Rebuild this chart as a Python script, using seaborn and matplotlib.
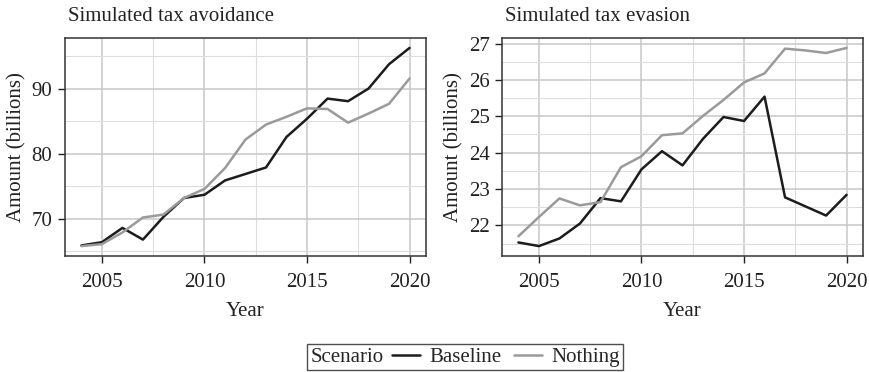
import matplotlib
matplotlib.use('Agg')
import matplotlib.pyplot as plt
import seaborn as sns
import pandas as pd
from matplotlib.ticker import MultipleLocator
from matplotlib.offsetbox import HPacker

years = list(range(2004, 2021))

avoid_baseline = [65.9, 66.4, 68.6, 66.8, 70.3, 73.2, 73.7, 75.9, 76.9, 77.9,
                  82.6, 85.4, 88.5, 88.1, 90.05, 93.8, 96.3]
avoid_nothing = [65.8, 66.1, 67.9, 70.2, 70.65, 73.2, 74.6, 77.8, 82.2, 84.5,
                 85.7, 87.0, 86.9, 84.8, 86.2, 87.7, 91.6]

evade_baseline = [21.53, 21.43, 21.64, 22.05, 22.75, 22.66, 23.54, 24.04, 23.65,
                  24.38, 24.98, 24.87, 25.54, 22.77, 22.52, 22.27, 22.84]
evade_nothing = [21.70, 22.23, 22.74, 22.55, 22.64, 23.60, 23.90, 24.48, 24.53,
                 25.01, 25.45, 25.93, 26.18, 26.86, 26.81, 26.74, 26.88]

scenarios = ['Baseline', 'Nothing']
colors = {'Baseline': '#1c1c1c', 'Nothing': '#9a9a9a'}


def long_df(base, nothing):
    return pd.DataFrame({
        'Year': years * 2,
        'Amount': base + nothing,
        'Scenario': ['Baseline'] * len(years) + ['Nothing'] * len(years),
    })


sns.set_theme(style='white')
plt.rcParams['font.family'] = ['Liberation Serif', 'DejaVu Serif']
FS = 15

fig = plt.figure(figsize=(8.69, 3.72), dpi=100, facecolor='white')
W, H = 869, 372
ax1 = fig.add_axes([65 / W, (H - 256) / H, 361 / W, 218 / H])
ax2 = fig.add_axes([502 / W, (H - 256) / H, 361 / W, 218 / H])

panels = [
    (ax1, long_df(avoid_baseline, avoid_nothing), 'Simulated tax avoidance', 10, 5),
    (ax2, long_df(evade_baseline, evade_nothing), 'Simulated tax evasion', 1, 0.5),
]

for ax, df, title, major, minor in panels:
    sns.lineplot(data=df, x='Year', y='Amount', hue='Scenario',
                 hue_order=scenarios, palette=colors, linewidth=1.8,
                 ax=ax, legend=False)
    ax.set_title(title, loc='left', fontsize=FS, pad=12, color='#222222', x=0.008)
    ax.set_xlabel('Year', fontsize=FS, color='#222222', labelpad=7.5)
    ax.set_ylabel('Amount (billions)', fontsize=FS, color='#222222', labelpad=4)
    ax.xaxis.set_major_locator(MultipleLocator(5))
    ax.xaxis.set_minor_locator(MultipleLocator(2.5))
    ax.yaxis.set_major_locator(MultipleLocator(major))
    ax.yaxis.set_minor_locator(MultipleLocator(minor))
    ax.grid(which='major', color='#c8c8c8', linewidth=1.1)
    ax.grid(which='minor', color='#dddddd', linewidth=0.8)
    ax.set_axisbelow(True)
    ax.tick_params(which='major', direction='out', length=5, width=1,
                   color='#222222', labelsize=FS, labelcolor='#222222',
                   bottom=True, left=True)
    ax.tick_params(axis='x', which='major', pad=7)
    ax.tick_params(axis='y', which='major', pad=4)
    ax.tick_params(which='minor', length=0)
    for s in ax.spines.values():
        s.set_color('#333333')
        s.set_linewidth(1.1)

handles = [plt.Line2D([], [], color=colors[s], linewidth=1.8) for s in scenarios]
leg = fig.legend(handles, scenarios, title='Scenario', ncol=2,
                 loc='center', bbox_to_anchor=(465 / W, (H - 357) / H),
                 frameon=True, fancybox=False, edgecolor='#222222',
                 fontsize=FS, title_fontsize=FS, handlelength=1.35,
                 handletextpad=0.45, columnspacing=0.6, borderpad=0.15)
leg.get_frame().set_linewidth(1.0)
# put the legend title to the left of the entries
fs = leg._fontsize
leg._legend_box = HPacker(pad=leg.borderpad * fs, sep=0.4 * fs, align='center',
                          children=[leg._legend_title_box, leg._legend_handle_box])
leg._legend_box.set_figure(fig)
leg._legend_box.set_offset(leg._findoffset)

fig.savefig('out.png', dpi=100)
